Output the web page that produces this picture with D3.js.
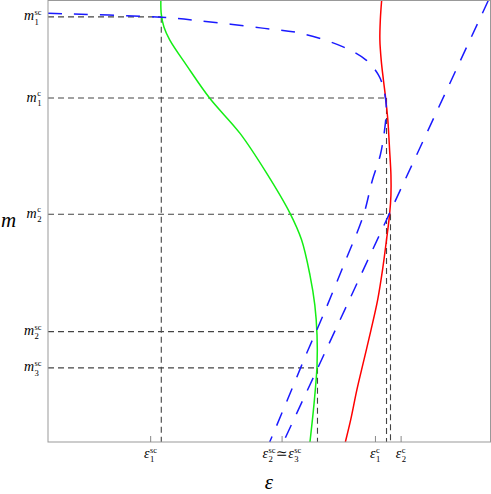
<!DOCTYPE html>
<html>
<head>
<meta charset="utf-8">
<script src="https://cdn.jsdelivr.net/npm/d3@7.9.0/dist/d3.min.js"></script>
<style>
  body { margin: 0; background: #fff; }
  svg { display: block; }
  text { font-family: "Liberation Serif", "DejaVu Serif", serif; }
</style>
</head>
<body>
<svg id="chart" width="491" height="494"></svg>
<script>
// curves (eps, m), both axes scaled 0..1
const greenCurve = [
  [0.255, 1.000], [0.256, 0.969], [0.262, 0.940], [0.275, 0.911], [0.314, 0.852],
  [0.366, 0.778], [0.434, 0.699], [0.494, 0.609], [0.547, 0.518], [0.573, 0.458],
  [0.592, 0.378], [0.603, 0.310], [0.608, 0.242], [0.608, 0.174], [0.602, 0.095],
  [0.592, 0.000]
];
const redCurve = [
  [0.754, 1.000], [0.751, 0.956], [0.750, 0.911], [0.753, 0.865], [0.758, 0.820],
  [0.763, 0.779], [0.768, 0.729], [0.772, 0.661], [0.775, 0.605], [0.775, 0.559],
  [0.772, 0.516], [0.765, 0.458], [0.756, 0.390], [0.745, 0.322], [0.730, 0.254],
  [0.714, 0.186], [0.698, 0.118], [0.684, 0.050], [0.672, 0.000]
];
const blueCurve = [
  [0.000, 0.971], [0.256, 0.962], [0.344, 0.954], [0.480, 0.938], [0.570, 0.926],
  [0.667, 0.895], [0.719, 0.865], [0.747, 0.831], [0.758, 0.802], [0.764, 0.768],
  [0.764, 0.741], [0.760, 0.702], [0.751, 0.650], [0.733, 0.593], [0.713, 0.514],
  [0.670, 0.405], [0.623, 0.290], [0.585, 0.202], [0.552, 0.122], [0.507, 0.014],
  [0.501, 0.000]
];
const blueLine = [[0.995, 1.0], [0.532, 0.0]];

// special points
const mValues = [0.963, 0.779, 0.516, 0.250, 0.168];
const mEps = [0.256, 0.765, 0.774, 0.609, 0.609];
const mLabels = [
  {sub: "1", sup: "sc"}, {sub: "1", sup: "c"}, {sub: "2", sup: "c"},
  {sub: "2", sup: "sc"}, {sub: "3", sup: "sc"}
];
const epsTicks = [0.232, 0.529, 0.740, 0.798];
const epsLabels = [
  [{t: "ε", sub: "1", sup: "sc"}],
  [{t: "ε", sub: "2", sup: "sc"}, {t: "≃"}, {t: "ε", sub: "3", sup: "sc"}],
  [{t: "ε", sub: "1", sup: "c"}],
  [{t: "ε", sub: "2", sup: "c"}]
];

const svg = d3.select('#chart');
const x = d3.scaleLinear().domain([0, 1]).range([48, 490.5]);
const y = d3.scaleLinear().domain([0, 1]).range([442, 0.5]);

// dashed guides
const guides = svg.append('g')
  .attr('fill', 'none')
  .attr('stroke', '#444')
  .attr('stroke-width', 1.1)
  .attr('stroke-dasharray', '6,4');

mValues.forEach((m, i) => {
  guides.append('line')
    .attr('x1', x(0)).attr('x2', x(mEps[i]))
    .attr('y1', y(m)).attr('y2', y(m));
  if (i !== 3) {
    guides.append('line')
      .attr('x1', x(mEps[i])).attr('x2', x(mEps[i]))
      .attr('y1', y(m)).attr('y2', y(0));
  }
});

const line = d3.line()
  .x(d => x(d[0]))
  .y(d => y(d[1]))
  .curve(d3.curveCatmullRom.alpha(0.5));

svg.append('path')
  .attr('d', line(greenCurve))
  .attr('fill', 'none')
  .attr('stroke', '#14ee14')
  .attr('stroke-width', 1.5);

svg.append('path')
  .attr('d', line(redCurve))
  .attr('fill', 'none')
  .attr('stroke', '#ff0000')
  .attr('stroke-width', 1.5);

[blueCurve, blueLine].forEach(pts => {
  svg.append('path')
    .attr('d', line(pts))
    .attr('fill', 'none')
    .attr('stroke', '#1a1aff')
    .attr('stroke-width', 1.5)
    .attr('stroke-dasharray', '14,12');
});

// frame
svg.append('rect')
  .attr('x', x(0)).attr('y', y(1))
  .attr('width', x(1) - x(0)).attr('height', y(0) - y(1))
  .attr('fill', 'none')
  .attr('stroke', '#999')
  .attr('stroke-width', 1);

svg.append('g')
  .selectAll('line')
  .data(epsTicks)
  .join('line')
  .attr('x1', d => x(d)).attr('x2', d => x(d))
  .attr('y1', y(0)).attr('y2', y(0) - 6)
  .attr('stroke', '#888');

// label with sub/superscripts, built piece by piece
function putLabel(parts, px, py, anchor, fs) {
  const g = svg.append('g');
  let cx = 0;
  parts.forEach(p => {
    const base = g.append('text')
      .attr('x', cx).attr('y', 0)
      .attr('font-size', fs)
      .attr('font-style', p.t === '≃' ? 'normal' : 'italic')
      .text(p.t);
    cx += base.node().getComputedTextLength() + (p.t === '≃' ? 0.5 : 0);
    if (p.sub || p.sup) {
      let w = 0;
      if (p.sub) {
        const s = g.append('text')
          .attr('x', cx + 0.5).attr('y', fs * 0.3)
          .attr('font-size', fs * 0.62)
          .text(p.sub);
        w = Math.max(w, s.node().getComputedTextLength());
      }
      if (p.sup) {
        const s = g.append('text')
          .attr('x', cx + 0.5).attr('y', -fs * 0.38)
          .attr('font-size', fs * 0.6)
          .text(p.sup);
        w = Math.max(w, s.node().getComputedTextLength());
      }
      cx += w + 1;
    }
  });
  const shift = anchor === 'end' ? cx : anchor === 'middle' ? cx / 2 : 0;
  g.attr('transform', `translate(${px - shift},${py})`);
}

epsTicks.forEach((e, i) => {
  putLabel(epsLabels[i], x(e), 458, 'middle', 14);
});

mValues.forEach((m, i) => {
  putLabel([{t: 'm', sub: mLabels[i].sub, sup: mLabels[i].sup}], 42, y(m) + 3.5, 'end', 14);
});

// axis titles
svg.append('text')
  .attr('x', 269).attr('y', 489)
  .attr('text-anchor', 'middle')
  .attr('font-size', 21)
  .attr('font-style', 'italic')
  .text('ε');

svg.append('text')
  .attr('x', 1).attr('y', 227)
  .attr('font-size', 21)
  .attr('font-style', 'italic')
  .text('m');
</script>
</body>
</html>
